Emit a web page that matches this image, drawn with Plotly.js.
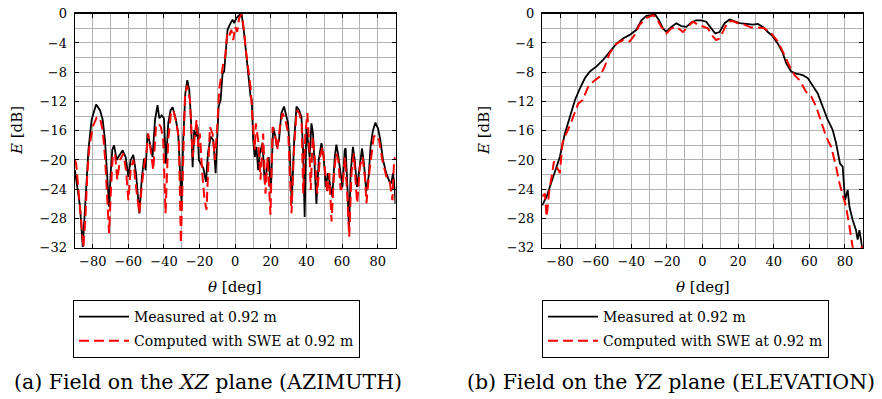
<!DOCTYPE html>
<html>
<head>
<meta charset="utf-8">
<script src="https://cdn.plot.ly/plotly-3.0.1.min.js"></script>
<style>html,body{margin:0;padding:0;background:#fff;}#chart{width:882px;height:399px;}</style>
</head>
<body>
<div id="chart"></div>
<script>
// ---- Data: azimuth (XZ plane) ----
const azMeasTheta = [-90,-87.1,-85.6,-83.7,-82.4,-80.6,-78.1,-75.9,-74.4,-73.1,-71.8,-70.8,-69.9,-69.0,-68.0,-66.5,-65.6,-63.2,-61.5,-60.0,-58.7,-57.2,-55.7,-53.8,-52.5,-51.2,-50.3,-49.2,-47.9,-46.4,-45.0,-43.6,-42.6,-41.3,-40.0,-38.9,-37.6,-36.3,-35.1,-33.3,-32.0,-30.8,-30.1,-29.2,-28.0,-26.9,-25.8,-24.9,-23.9,-23.0,-22.1,-21.1,-20.4,-19.4,-17.9,-16.4,-15.3,-13.8,-12.3,-11.0,-10.1,-9.3,-8.2,-7.1,-6.2,-5.2,-4.3,-3.0,-1.5,-0.6,0.7,2.2,3.6,5.0,6.4,7.3,8.6,9.3,10.1,11.0,11.9,12.9,13.8,15.3,16.6,17.9,18.8,20.0,21.3,22.2,23.5,24.6,25.9,27.4,28.8,29.7,30.6,31.7,33.1,34.4,35.9,37.2,38.1,39.0,40.0,40.9,41.8,42.8,43.7,44.6,45.6,46.9,48.4,49.7,50.8,52.1,53.4,54.5,55.9,56.8,57.7,59.0,60.2,61.5,62.0,63.0,63.9,64.8,66.1,67.1,68.4,69.9,71.2,72.3,73.6,74.9,76.0,77.3,78.7,80.2,81.5,83.0,84.8,86.7,87.6,88.6,89.5,90];
const azMeasE = [-21.4,-26.4,-31.9,-23.7,-18.6,-14.5,-12.4,-13.2,-14.5,-17.3,-22.7,-26.4,-21.8,-18.6,-18.0,-20.0,-19.6,-18.7,-19.6,-22.3,-20.0,-19.3,-21.8,-27.3,-22.7,-19.8,-21.4,-16.4,-17.7,-19.6,-14.5,-12.5,-14.3,-13.9,-14.3,-20.5,-15.0,-13.2,-12.8,-14.5,-16.4,-21.5,-26.0,-17.3,-10.9,-9.1,-10.4,-14.1,-21.0,-15.9,-16.8,-15.5,-20.0,-20.5,-21.1,-23.0,-19.1,-16.8,-17.3,-21.8,-15.5,-12.7,-11.8,-8.2,-7.9,-5.0,-2.2,-1.5,-0.8,-1.3,-0.6,-0.2,0,-2.7,-5.9,-8.2,-11.3,-11.8,-17.3,-19.6,-18.2,-21.4,-19.1,-17.7,-23.2,-20.9,-19.6,-24.3,-15.5,-16.4,-18.2,-17.3,-13.6,-12.7,-14.1,-15.0,-18.6,-26.0,-17.3,-12.7,-13.2,-14.1,-18.6,-27.8,-15.5,-17.7,-19.6,-15.0,-16.4,-20.9,-26.0,-20.0,-17.7,-19.6,-23.7,-21.8,-23.7,-25.0,-19.6,-17.9,-19.1,-21.8,-23.7,-18.6,-18.4,-23.7,-29.6,-21.8,-18.2,-20.0,-23.7,-20.9,-18.4,-20.5,-24.3,-22.3,-18.2,-16.0,-14.9,-15.7,-17.3,-20.0,-21.8,-23.0,-23.2,-21.8,-23.7,-26.0];
const azSweTheta = [-90,-89.3,-88.0,-87.1,-86.2,-85.2,-84.1,-83.0,-81.9,-80.0,-77.8,-75.9,-74.4,-73.1,-71.8,-70.8,-69.7,-68.8,-67.5,-66.2,-64.7,-62.8,-61.3,-60.0,-58.7,-57.2,-55.7,-53.8,-52.5,-51.2,-49.7,-48.8,-47.5,-46.0,-44.5,-43.0,-41.7,-40.4,-39.1,-37.6,-36.1,-34.8,-32.9,-31.6,-30.5,-29.3,-28.2,-26.9,-25.4,-23.9,-22.8,-21.7,-20.7,-19.8,-18.5,-17.2,-16.1,-15.1,-14.2,-12.7,-11.4,-10.1,-9.0,-7.9,-6.7,-5.6,-4.5,-3.4,-2.2,-1.1,0,1.1,2.2,3.6,4.9,6.0,7.3,8.6,10.0,11.0,11.6,12.9,14.2,15.7,17.0,18.2,19.8,21.0,22.3,23.6,25.1,26.6,28.1,29.8,31.6,33.0,34.5,36.0,37.3,38.2,39.4,40.5,41.6,42.4,43.5,44.8,46.1,47.6,49.1,50.4,51.7,52.8,54.1,55.4,56.6,57.9,59.2,60.3,61.6,62.9,64.0,65.3,66.6,67.8,68.5,70.0,71.5,72.8,73.7,75.0,76.5,77.8,79.3,80.8,82.6,84.9,86.8,88.3,89.2,90];
const azSweE = [-20.0,-20.5,-24.1,-26.8,-30.0,-32.0,-27.8,-21.8,-18.2,-15.5,-14.2,-14.3,-15.9,-19.6,-25.5,-30.0,-23.7,-19.6,-19.1,-22.7,-20.0,-19.1,-21.4,-25.5,-21.4,-20.0,-23.7,-27.3,-23.7,-20.9,-18.6,-16.4,-18.6,-21.4,-15.5,-15.0,-15.5,-17.3,-27.3,-17.3,-13.6,-13.2,-15.0,-17.3,-31.4,-18.6,-11.3,-9.8,-11.8,-19.6,-16.8,-14.5,-18.2,-16.4,-21.8,-25.5,-26.8,-21.8,-15.5,-16.4,-20.0,-15.5,-10.4,-8.6,-6.8,-5.9,-2.7,-3.1,-2.2,-3.6,-1.8,-2.5,-0.6,-0.1,-2.2,-5.0,-7.2,-10.0,-15.2,-18.6,-15.0,-17.3,-22.7,-16.4,-24.6,-19.6,-27.5,-15.5,-16.4,-18.6,-15.5,-13.6,-14.5,-16.4,-27.3,-18.6,-13.2,-13.6,-15.0,-24.6,-16.4,-13.6,-18.2,-24.1,-16.8,-20.0,-24.6,-19.6,-18.2,-21.8,-24.6,-21.8,-28.4,-22.3,-19.1,-20.0,-24.1,-23.7,-19.6,-24.6,-30.5,-21.8,-19.1,-23.7,-25.9,-20.9,-19.6,-22.3,-25.9,-22.3,-19.1,-16.8,-16.6,-17.3,-20.0,-22.3,-23.0,-25.5,-20.0,-19.6];

// ---- Data: elevation (YZ plane) ----
const elMeasTheta = [-90,-87.5,-83.8,-80.1,-77.3,-74.4,-71.6,-68.8,-66.0,-63.2,-59.5,-55.8,-52.1,-48.3,-44.6,-40.9,-37.1,-34.3,-31.5,-28.7,-26.9,-24.4,-22.2,-20.3,-17.5,-14.7,-11.9,-9.1,-6.3,-3.5,-0.7,2.1,4.9,7.2,9.6,12.4,15.2,18.0,20.8,24.6,28.3,31.1,33.9,36.7,39.5,42.3,45.1,47.0,49.8,52.6,56.3,59.1,61.9,64.7,67.5,70.3,73.1,75.0,77.2,78.7,80.0,81.5,82.5,84.3,86.2,87.1,88.1,89.4,90];
const elMeasE = [-26.2,-25.0,-22.3,-19.6,-16.4,-14.1,-11.8,-10.2,-8.8,-7.9,-7.2,-6.3,-5.2,-4.1,-3.4,-2.9,-2.2,-0.9,-0.3,-0.2,0,-0.9,-2.0,-2.5,-1.8,-1.3,-1.7,-1.8,-1.2,-0.9,-0.9,-1.1,-2.0,-2.7,-2.5,-1.3,-0.8,-1.0,-1.3,-1.4,-1.5,-1.4,-1.8,-2.5,-3.1,-4.1,-5.4,-6.8,-7.9,-8.2,-8.4,-8.8,-9.8,-10.9,-12.7,-14.5,-15.9,-17.7,-20.5,-20.9,-25.5,-24.1,-26.4,-28.2,-29.6,-30.9,-29.6,-31.9,-32.5];
const elSweTheta = [-90,-88.5,-87.5,-86.0,-84.7,-83.4,-81.9,-80.1,-78.6,-77.3,-74.8,-72.2,-69.8,-67.3,-64.2,-61.4,-57.7,-54.9,-52.1,-48.3,-44.6,-40.9,-38.1,-35.3,-31.5,-27.8,-25.9,-23.1,-20.3,-17.5,-14.7,-11.0,-8.2,-5.4,-2.6,0.2,3.0,5.8,7.7,9.6,11.4,14.2,17.0,19.9,23.6,27.4,31.1,34.8,38.6,42.3,46.1,48.9,51.7,54.5,58.2,61.0,63.8,66.6,69.4,72.2,75.0,76.9,78.7,80.6,82.5,84.3,86.0,88.0,89.2,90];
const elSweE = [-25.0,-24.6,-27.8,-24.1,-22.3,-20.2,-20.9,-21.8,-17.7,-16.8,-15.5,-13.9,-12.3,-11.8,-10.0,-9.3,-8.6,-7.2,-5.4,-4.1,-3.6,-3.8,-2.9,-1.5,-0.6,-0.2,-0.6,-1.8,-2.7,-2.0,-1.8,-2.5,-1.8,-1.1,-1.5,-1.8,-2.0,-3.1,-3.6,-3.4,-2.5,-1.1,-1.0,-1.3,-1.5,-1.9,-1.9,-2.0,-2.7,-3.8,-5.7,-7.2,-8.4,-9.1,-10.7,-11.3,-12.7,-14.8,-16.8,-18.2,-20.9,-23.2,-24.6,-26.4,-29.1,-31.9,-33.5,-33.5,-32.0,-31.8];

// ---- Labels ----
const seriesNames = ["Measured at 0.92 m", "Computed with SWE at 0.92 m"];
const xTickVals = [-80,-60,-40,-20,0,20,40,60,80];
const xTickText = ["−80","−60","−40","−20","0","20","40","60","80"];
const yTickVals = [0,-4,-8,-12,-16,-20,-24,-28,-32];
const yTickText = ["0","−4","−8","−12","−16","−20","−24","−28","−32"];
const captions = ["(a) Field on the <i>XZ</i> plane (AZIMUTH)", "(b) Field on the <i>YZ</i> plane (ELEVATION)"];
const xTitle = "<i>θ</i> [deg]";
const yTitle = "<i>E</i> [dB]";

const W = 882, H = 399;
const FONT = "DejaVu Serif";
const px = v => v / W;
const py = v => 1 - v / H;

const measLine = {color: "#000000", width: 1.8};
const sweLine = {color: "#ff0000", width: 2, dash: "10px,5px"};

const traces = [
  {x: azMeasTheta, y: azMeasE, xaxis: "x", yaxis: "y", mode: "lines", name: seriesNames[0], line: measLine, legend: "legend", legendgroup: "m1"},
  {x: azSweTheta, y: azSweE, xaxis: "x", yaxis: "y", mode: "lines", name: seriesNames[1], line: sweLine, legend: "legend", legendgroup: "s1"},
  {x: elMeasTheta, y: elMeasE, xaxis: "x2", yaxis: "y2", mode: "lines", name: seriesNames[0], line: measLine, legend: "legend2", legendgroup: "m2"},
  {x: elSweTheta, y: elSweE, xaxis: "x2", yaxis: "y2", mode: "lines", name: seriesNames[1], line: sweLine, legend: "legend2", legendgroup: "s2"}
];

function xAx(domain, anchor) {
  return {
    domain: domain, anchor: anchor, range: [-90, 90],
    tickvals: xTickVals, ticktext: xTickText,
    ticks: "inside", ticklen: 4, tickcolor: "#000", tickwidth: 1,
    showline: true, linecolor: "#000", linewidth: 1.3, mirror: "ticks",
    showgrid: true, gridcolor: "#b0b0b0", gridwidth: 1,
    minor: {dtick: 10, tick0: 0, showgrid: true, gridcolor: "#b0b0b0", gridwidth: 1, ticks: ""},
    zeroline: false, ticklabelstandoff: 1,
    tickfont: {family: FONT, size: 13, color: "#000"}
  };
}
function yAx(anchor) {
  return {
    domain: [py(247.7), py(13.7)], anchor: anchor, range: [-32, 0],
    tickvals: yTickVals, ticktext: yTickText,
    ticks: "inside", ticklen: 4, tickcolor: "#000", tickwidth: 1,
    showline: true, linecolor: "#000", linewidth: 1.3, mirror: "ticks",
    showgrid: true, gridcolor: "#b0b0b0", gridwidth: 1,
    minor: {dtick: 2, tick0: 0, showgrid: true, gridcolor: "#b0b0b0", gridwidth: 1, ticks: ""},
    zeroline: false, ticklabelstandoff: 4,
    tickfont: {family: FONT, size: 13, color: "#000"}
  };
}

const legendCommon = {
  xref: "paper", yref: "paper", xanchor: "left", yanchor: "top",
  bordercolor: "#000", borderwidth: 1, bgcolor: "#fff",
  font: {family: FONT, size: 14, color: "#000"}, tracegroupgap: 3, itemwidth: 50
};

const layout = {
  width: W, height: H,
  margin: {l: 0, r: 0, t: 0, b: 0},
  paper_bgcolor: "#fff", plot_bgcolor: "#fff",
  font: {family: FONT, color: "#000"},
  xaxis: xAx([px(74.9), px(395.5)], "y"),
  yaxis: yAx("x"),
  xaxis2: xAx([px(542.2), px(862.8)], "y2"),
  yaxis2: yAx("x2"),
  legend: Object.assign({}, legendCommon, {x: px(73), y: py(300)}),
  legend2: Object.assign({}, legendCommon, {x: px(542), y: py(300)}),
  showlegend: true,
  annotations: [
    {text: xTitle, xref: "paper", yref: "paper", x: px(235.2), y: py(287), xanchor: "center", yanchor: "middle", showarrow: false, font: {family: FONT, size: 15, color: "#000"}},
    {text: xTitle, xref: "paper", yref: "paper", x: px(702.5), y: py(287), xanchor: "center", yanchor: "middle", showarrow: false, font: {family: FONT, size: 15, color: "#000"}},
    {text: yTitle, xref: "paper", yref: "paper", x: px(17), y: py(131), xanchor: "center", yanchor: "middle", textangle: -90, showarrow: false, font: {family: FONT, size: 15, color: "#000"}},
    {text: yTitle, xref: "paper", yref: "paper", x: px(484), y: py(131), xanchor: "center", yanchor: "middle", textangle: -90, showarrow: false, font: {family: FONT, size: 15, color: "#000"}},
    {text: captions[0], xref: "paper", yref: "paper", x: px(12), y: py(382), xanchor: "left", yanchor: "middle", showarrow: false, font: {family: FONT, size: 20.5, color: "#000"}},
    {text: captions[1], xref: "paper", yref: "paper", x: px(465), y: py(382), xanchor: "left", yanchor: "middle", showarrow: false, font: {family: FONT, size: 20.5, color: "#000"}}
  ]
};

Plotly.newPlot("chart", traces, layout, {staticPlot: true, displayModeBar: false});
</script>
</body>
</html>
